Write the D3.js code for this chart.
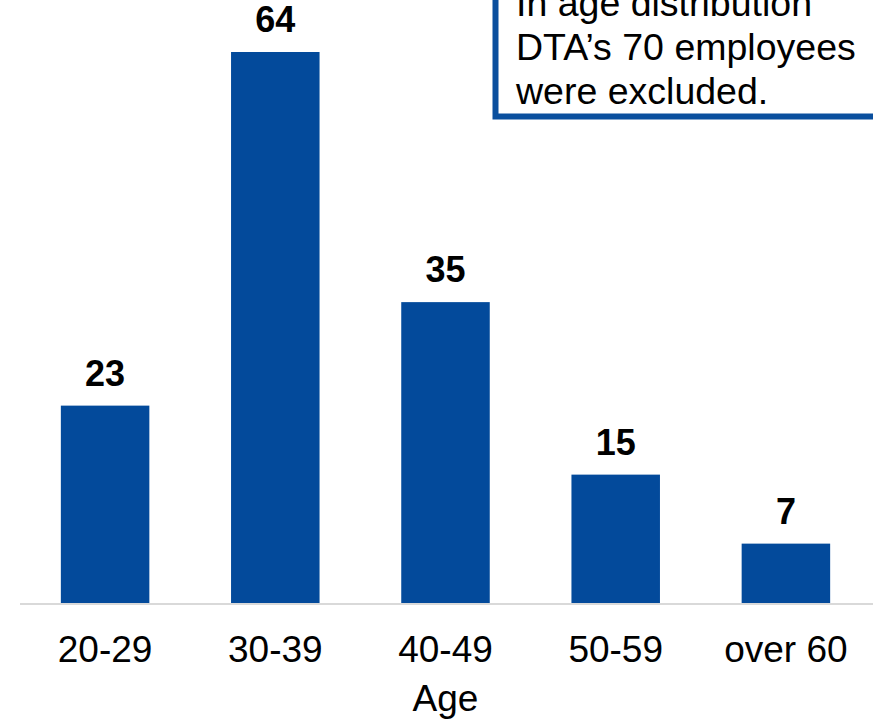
<!DOCTYPE html>
<html>
<head>
<meta charset="utf-8">
<script src="https://cdn.jsdelivr.net/npm/d3@7"></script>
<style>
  html, body { margin: 0; padding: 0; background: #fff; }
  svg { display: block; }
  text { font-family: "Liberation Sans", Arial, sans-serif; }
</style>
</head>
<body>
<script>
// Employee age distribution
const categories = ["20-29", "30-39", "40-49", "50-59", "over 60"];
const counts = [23, 64, 35, 15, 7];
const axisTitle = "Age";
const noteLines = ["In age distribution", "DTA\u2019s 70 employees", "were excluded."];

const W = 873, H = 721;
const barColor = "#034a9b";

const svg = d3.select("body").append("svg")
  .attr("width", W).attr("height", H);

const x = d3.scaleBand()
  .domain(categories)
  .range([20, 871])
  .paddingInner(0.48)
  .paddingOuter(0.24);

const y = d3.scaleLinear()
  .domain([0, 64])
  .range([604, 52]);

// bars
svg.append("g").selectAll("rect")
  .data(categories)
  .join("rect")
  .attr("x", d => x(d))
  .attr("width", x.bandwidth())
  .attr("y", (d, i) => y(counts[i]))
  .attr("height", (d, i) => y(0) - y(counts[i]))
  .attr("fill", barColor);

// value labels
svg.append("g").selectAll("text")
  .data(categories)
  .join("text")
  .attr("x", d => x(d) + x.bandwidth() / 2)
  .attr("y", (d, i) => y(counts[i]) - 20)
  .attr("text-anchor", "middle")
  .attr("font-size", 36)
  .attr("font-weight", "bold")
  .attr("fill", "#000")
  .text((d, i) => counts[i]);

// category axis
const xAxis = svg.append("g")
  .attr("transform", `translate(0,${y(0)})`)
  .call(d3.axisBottom(x).tickSize(0));
xAxis.select(".domain")
  .attr("d", `M20,0H${W}`)
  .attr("stroke", "#d9d9d9")
  .attr("stroke-width", 2);
xAxis.selectAll(".tick text")
  .attr("font-family", "'Liberation Sans', Arial, sans-serif")
  .attr("font-size", 37)
  .attr("fill", "#000")
  .attr("dy", 0)
  .attr("y", 58);

svg.append("text")
  .attr("x", (x.range()[0] + x.range()[1]) / 2)
  .attr("y", 711)
  .attr("text-anchor", "middle")
  .attr("font-size", 37)
  .attr("fill", "#000")
  .text(axisTitle);

// note box
svg.append("rect")
  .attr("x", 495.5)
  .attr("y", -20)
  .attr("width", 420)
  .attr("height", 136.5)
  .attr("fill", "#fff")
  .attr("stroke", "#0a4f9e")
  .attr("stroke-width", 6);

svg.append("g").selectAll("text")
  .data(noteLines)
  .join("text")
  .attr("x", 516)
  .attr("y", (d, i) => 16 + i * 44)
  .attr("font-size", 37.5)
  .attr("fill", "#000")
  .text(d => d);
</script>
</body>
</html>
